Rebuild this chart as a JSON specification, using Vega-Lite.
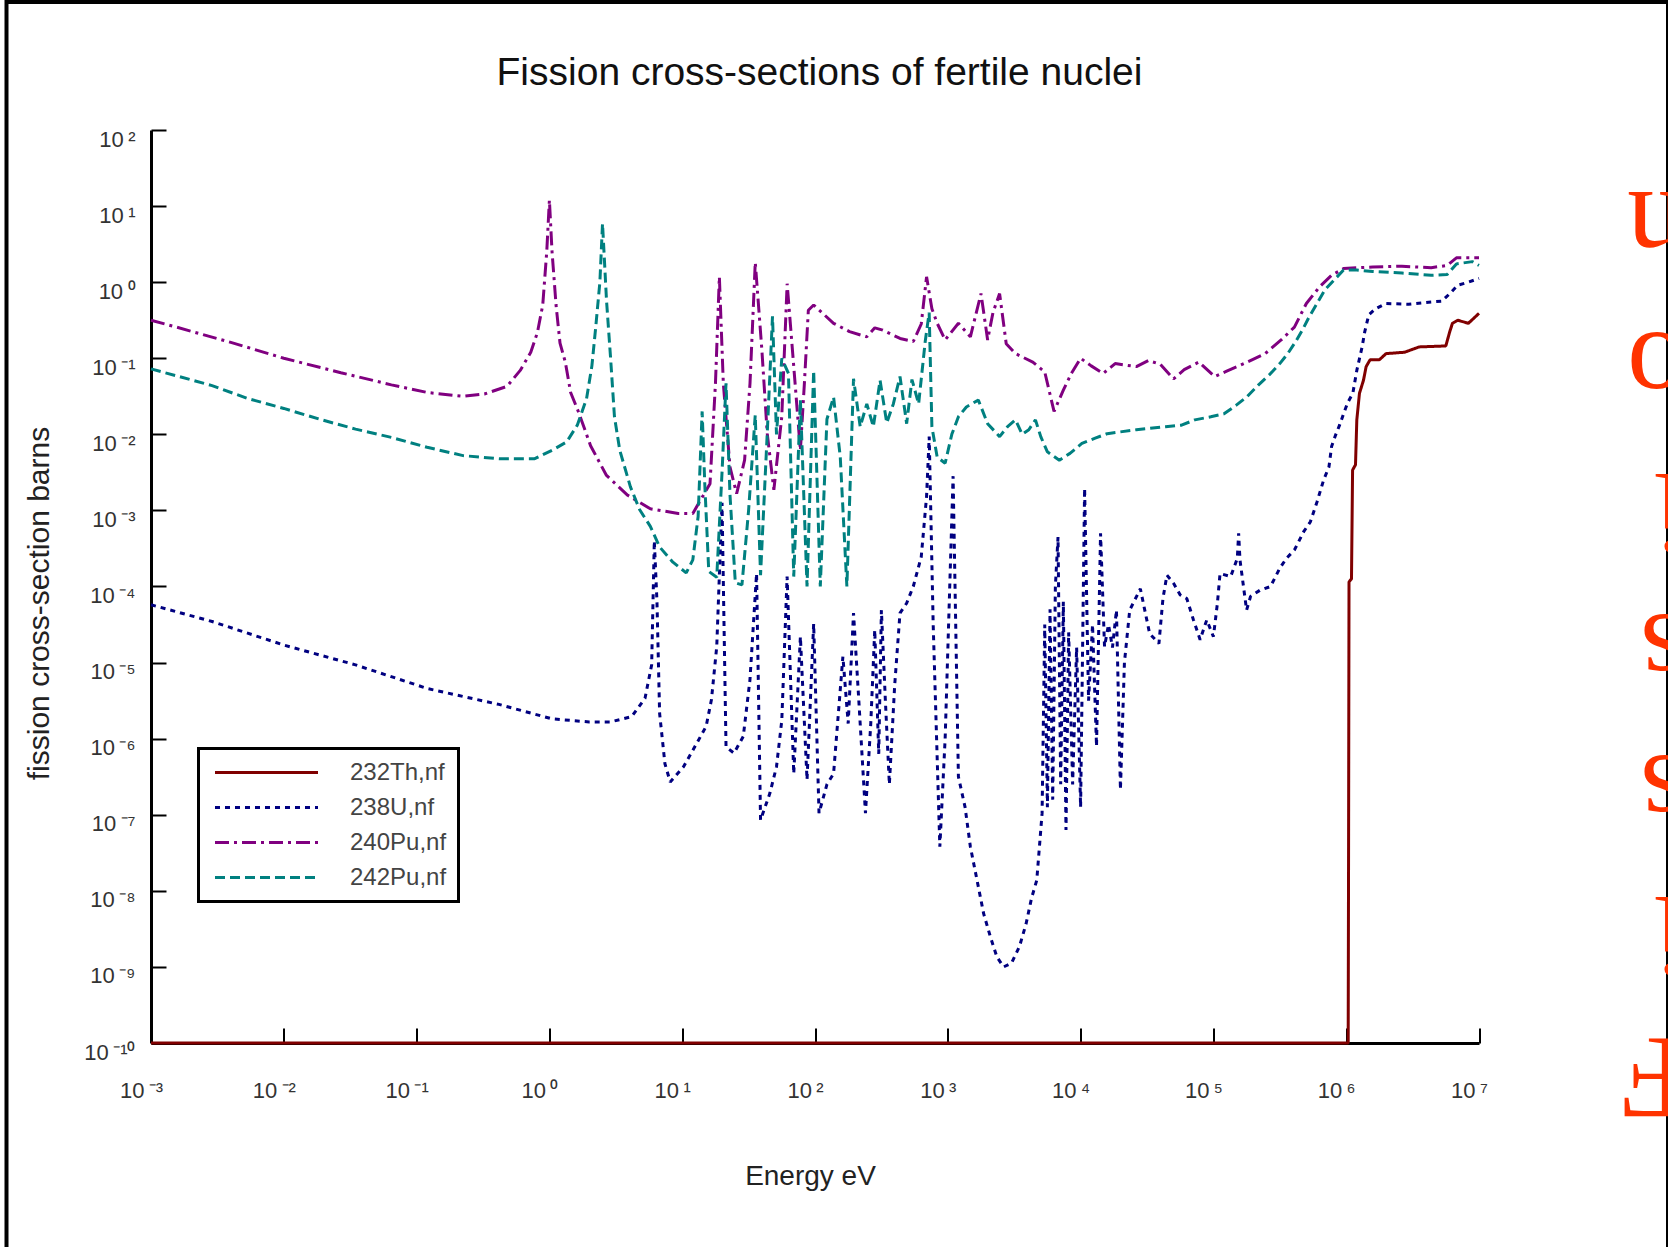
{
"$schema": "https://vega.github.io/schema/vega-lite/v6.json",
"autosize": "none",
"width": 1661.5,
"height": 1249,
"padding": {"left": 6.5, "top": 2, "right": 0, "bottom": -4},
"background": "white",
"title": {"text": "Fission cross-sections of fertile nuclei", "fontSize": 39, "font": "Liberation Sans", "fontWeight": "normal", "color": "#111", "frame": "group", "anchor": "middle", "offset": -122, "baseline": "alphabetic", "dx": -17.75},
"data": {"values": [
{"s":"232Th,nf","e":0.001,"v":1e-10},{"s":"232Th,nf","e":1.035e6,"v":1e-10},{"s":"232Th,nf","e":1.042e6,"v":3.16e-8},{"s":"232Th,nf","e":1.05e6,"v":1.15e-4},{"s":"232Th,nf","e":1.096e6,"v":1.26e-4},{"s":"232Th,nf","e":1.117e6,"v":3.39e-3},{"s":"232Th,nf","e":1.175e6,"v":3.98e-3},{"s":"232Th,nf","e":1.202e6,"v":0.0155},{"s":"232Th,nf","e":1.259e6,"v":0.0347},{"s":"232Th,nf","e":1.349e6,"v":0.0513},{"s":"232Th,nf","e":1.413e6,"v":0.0776},{"s":"232Th,nf","e":1.514e6,"v":0.0955},{"s":"232Th,nf","e":1.778e6,"v":0.0955},{"s":"232Th,nf","e":1.995e6,"v":0.115},{"s":"232Th,nf","e":2.754e6,"v":0.12},{"s":"232Th,nf","e":3.548e6,"v":0.141},{"s":"232Th,nf","e":5.623e6,"v":0.145},{"s":"232Th,nf","e":6.026e6,"v":0.224},{"s":"232Th,nf","e":6.31e6,"v":0.288},{"s":"232Th,nf","e":6.918e6,"v":0.316},{"s":"232Th,nf","e":8.318e6,"v":0.288},{"s":"232Th,nf","e":1e7,"v":0.389},
{"s":"238U,nf","e":0.001,"v":5.75e-5},{"s":"238U,nf","e":2.884e-3,"v":3.47e-5},{"s":"238U,nf","e":0.01,"v":1.7e-5},{"s":"238U,nf","e":0.0347,"v":9.33e-6},{"s":"238U,nf","e":0.12,"v":4.57e-6},{"s":"238U,nf","e":0.417,"v":2.82e-6},{"s":"238U,nf","e":1.047,"v":1.82e-6},{"s":"238U,nf","e":1.995,"v":1.66e-6},{"s":"238U,nf","e":2.884,"v":1.66e-6},{"s":"238U,nf","e":4.169,"v":1.95e-6},{"s":"238U,nf","e":5.248,"v":3.39e-6},{"s":"238U,nf","e":5.888,"v":9.33e-6},{"s":"238U,nf","e":6.166,"v":3.98e-4},{"s":"238U,nf","e":6.457,"v":6.31e-5},{"s":"238U,nf","e":6.761,"v":2.14e-6},{"s":"238U,nf","e":7.413,"v":4.68e-7},{"s":"238U,nf","e":8.128,"v":2.69e-7},{"s":"238U,nf","e":10.23,"v":4.27e-7},{"s":"238U,nf","e":12.88,"v":8.71e-7},{"s":"238U,nf","e":15.14,"v":1.45e-6},{"s":"238U,nf","e":16.6,"v":3.24e-6},{"s":"238U,nf","e":18.2,"v":1.62e-5},{"s":"238U,nf","e":19.95,"v":1.26e-3},{"s":"238U,nf","e":21.38,"v":7.76e-7},{"s":"238U,nf","e":24.55,"v":6.46e-7},{"s":"238U,nf","e":28.84,"v":1.07e-6},{"s":"238U,nf","e":32.36,"v":5.89e-6},{"s":"238U,nf","e":36.31,"v":1.48e-4},{"s":"238U,nf","e":38.9,"v":8.51e-8},{"s":"238U,nf","e":45.71,"v":1.91e-7},{"s":"238U,nf","e":51.29,"v":4.27e-7},{"s":"238U,nf","e":56.23,"v":1.74e-6},{"s":"238U,nf","e":61.66,"v":1.35e-4},{"s":"238U,nf","e":69.18,"v":3.47e-7},{"s":"238U,nf","e":77.62,"v":2.19e-5},{"s":"238U,nf","e":87.1,"v":2.88e-7},{"s":"238U,nf","e":97.7,"v":3.24e-5},{"s":"238U,nf","e":107.2,"v":1.05e-7},{"s":"238U,nf","e":123,"v":2.51e-7},{"s":"238U,nf","e":138,"v":3.47e-7},{"s":"238U,nf","e":162.2,"v":1.2e-5},{"s":"238U,nf","e":177.8,"v":1.58e-6},{"s":"238U,nf","e":195,"v":4.47e-5},{"s":"238U,nf","e":213.8,"v":3.16e-6},{"s":"238U,nf","e":239.9,"v":1.05e-7},{"s":"238U,nf","e":263,"v":1.58e-6},{"s":"238U,nf","e":281.8,"v":2.69e-5},{"s":"238U,nf","e":302,"v":6.31e-7},{"s":"238U,nf","e":316.2,"v":4.9e-5},{"s":"238U,nf","e":338.8,"v":3.16e-6},{"s":"238U,nf","e":363.1,"v":2.51e-7},{"s":"238U,nf","e":398.1,"v":5.01e-6},{"s":"238U,nf","e":436.5,"v":4.47e-5},{"s":"238U,nf","e":489.8,"v":6.03e-5},{"s":"238U,nf","e":549.5,"v":1e-4},{"s":"238U,nf","e":631,"v":2.45e-4},{"s":"238U,nf","e":691.8,"v":1.51e-3},{"s":"238U,nf","e":724.4,"v":9.33e-3},{"s":"238U,nf","e":776.2,"v":3.16e-5},{"s":"238U,nf","e":871,"v":3.8e-8},{"s":"238U,nf","e":955,"v":1e-6},{"s":"238U,nf","e":1096,"v":2.82e-3},{"s":"238U,nf","e":1202,"v":3.16e-7},{"s":"238U,nf","e":1349,"v":1.26e-7},{"s":"238U,nf","e":1479,"v":3.8e-8},{"s":"238U,nf","e":1660,"v":1.38e-8},{"s":"238U,nf","e":1862,"v":5.01e-9},{"s":"238U,nf","e":2089,"v":2.51e-9},{"s":"238U,nf","e":2344,"v":1.35e-9},{"s":"238U,nf","e":2630,"v":1e-9},{"s":"238U,nf","e":3020,"v":1.12e-9},{"s":"238U,nf","e":3467,"v":1.86e-9},{"s":"238U,nf","e":3890,"v":3.72e-9},{"s":"238U,nf","e":4266,"v":7.94e-9},{"s":"238U,nf","e":4677,"v":1.38e-8},{"s":"238U,nf","e":4898,"v":3.8e-8},{"s":"238U,nf","e":5129,"v":1.05e-7},{"s":"238U,nf","e":5370,"v":3.16e-5},{"s":"238U,nf","e":5623,"v":1.26e-7},{"s":"238U,nf","e":5888,"v":5.01e-5},{"s":"238U,nf","e":6166,"v":1.58e-7},{"s":"238U,nf","e":6457,"v":1e-4},{"s":"238U,nf","e":6761,"v":4.47e-4},{"s":"238U,nf","e":7079,"v":2.51e-7},{"s":"238U,nf","e":7413,"v":6.31e-5},{"s":"238U,nf","e":7762,"v":6.31e-8},{"s":"238U,nf","e":8128,"v":2.51e-5},{"s":"238U,nf","e":8710,"v":2.51e-7},{"s":"238U,nf","e":9333,"v":1.58e-5},{"s":"238U,nf","e":10000,"v":1.26e-7},{"s":"238U,nf","e":10720,"v":1.95e-3},{"s":"238U,nf","e":11480,"v":3.16e-6},{"s":"238U,nf","e":12300,"v":3.16e-5},{"s":"238U,nf","e":13180,"v":7.94e-7},{"s":"238U,nf","e":14130,"v":5.01e-4},{"s":"238U,nf","e":15140,"v":1.62e-5},{"s":"238U,nf","e":16220,"v":3.16e-5},{"s":"238U,nf","e":17380,"v":1.58e-5},{"s":"238U,nf","e":18620,"v":4.9e-5},{"s":"238U,nf","e":19950,"v":2.14e-7},{"s":"238U,nf","e":21380,"v":1e-5},{"s":"238U,nf","e":23440,"v":4.9e-5},{"s":"238U,nf","e":28180,"v":9.33e-5},{"s":"238U,nf","e":33110,"v":2.4e-5},{"s":"238U,nf","e":38900,"v":1.78e-5},{"s":"238U,nf","e":41690,"v":6.92e-5},{"s":"238U,nf","e":44670,"v":1.41e-4},{"s":"238U,nf","e":50120,"v":1.1e-4},{"s":"238U,nf","e":56230,"v":7.76e-5},{"s":"238U,nf","e":63100,"v":6.92e-5},{"s":"238U,nf","e":70790,"v":3.63e-5},{"s":"238U,nf","e":79430,"v":2e-5},{"s":"238U,nf","e":89130,"v":3.63e-5},{"s":"238U,nf","e":100000,"v":2.19e-5},{"s":"238U,nf","e":107200,"v":6.03e-5},{"s":"238U,nf","e":112200,"v":1.48e-4},{"s":"238U,nf","e":134900,"v":1.35e-4},{"s":"238U,nf","e":151400,"v":2.34e-4},{"s":"238U,nf","e":154900,"v":5.01e-4},{"s":"238U,nf","e":158500,"v":2.24e-4},{"s":"238U,nf","e":177800,"v":4.9e-5},{"s":"238U,nf","e":190500,"v":7.41e-5},{"s":"238U,nf","e":223900,"v":8.91e-5},{"s":"238U,nf","e":269200,"v":1e-4},{"s":"238U,nf","e":316200,"v":1.74e-4},{"s":"238U,nf","e":354800,"v":2.34e-4},{"s":"238U,nf","e":407400,"v":3.02e-4},{"s":"238U,nf","e":478600,"v":5.25e-4},{"s":"238U,nf","e":537000,"v":7.08e-4},{"s":"238U,nf","e":602600,"v":1.29e-3},{"s":"238U,nf","e":676100,"v":2.51e-3},{"s":"238U,nf","e":741300,"v":3.72e-3},{"s":"238U,nf","e":776200,"v":6.92e-3},{"s":"238U,nf","e":831800,"v":9.77e-3},{"s":"238U,nf","e":891300,"v":0.0132},{"s":"238U,nf","e":955000,"v":0.0186},{"s":"238U,nf","e":1.023e6,"v":0.0257},{"s":"238U,nf","e":1.122e6,"v":0.0347},{"s":"238U,nf","e":1.202e6,"v":0.0692},{"s":"238U,nf","e":1.318e6,"v":0.141},{"s":"238U,nf","e":1.38e6,"v":0.224},{"s":"238U,nf","e":1.479e6,"v":0.372},{"s":"238U,nf","e":1.66e6,"v":0.447},{"s":"238U,nf","e":1.995e6,"v":0.525},{"s":"238U,nf","e":2.951e6,"v":0.513},{"s":"238U,nf","e":4.365e6,"v":0.55},{"s":"238U,nf","e":5.248e6,"v":0.562},{"s":"238U,nf","e":6.026e6,"v":0.708},{"s":"238U,nf","e":6.918e6,"v":0.912},{"s":"238U,nf","e":8.318e6,"v":1.0},{"s":"238U,nf","e":1e7,"v":1.122},
{"s":"240Pu,nf","e":0.001,"v":0.316},{"s":"240Pu,nf","e":1.549e-3,"v":0.257},{"s":"240Pu,nf","e":4.17e-3,"v":0.158},{"s":"240Pu,nf","e":0.01,"v":0.1},{"s":"240Pu,nf","e":0.0269,"v":0.0646},{"s":"240Pu,nf","e":0.0646,"v":0.0447},{"s":"240Pu,nf","e":0.12,"v":0.0355},{"s":"240Pu,nf","e":0.224,"v":0.0316},{"s":"240Pu,nf","e":0.324,"v":0.0339},{"s":"240Pu,nf","e":0.479,"v":0.0427},{"s":"240Pu,nf","e":0.603,"v":0.0692},{"s":"240Pu,nf","e":0.724,"v":0.12},{"s":"240Pu,nf","e":0.813,"v":0.219},{"s":"240Pu,nf","e":0.891,"v":0.501},{"s":"240Pu,nf","e":0.955,"v":2.51},{"s":"240Pu,nf","e":1.0,"v":12.0},{"s":"240Pu,nf","e":1.047,"v":2.51},{"s":"240Pu,nf","e":1.122,"v":0.501},{"s":"240Pu,nf","e":1.202,"v":0.158},{"s":"240Pu,nf","e":1.318,"v":0.0891},{"s":"240Pu,nf","e":1.445,"v":0.0355},{"s":"240Pu,nf","e":1.66,"v":0.0195},{"s":"240Pu,nf","e":2.042,"v":0.00708},{"s":"240Pu,nf","e":2.692,"v":0.00288},{"s":"240Pu,nf","e":3.89,"v":0.00158},{"s":"240Pu,nf","e":5.754,"v":0.00105},{"s":"240Pu,nf","e":9.333,"v":0.000912},{"s":"240Pu,nf","e":12.02,"v":0.000912},{"s":"240Pu,nf","e":16.2,"v":0.00224},{"s":"240Pu,nf","e":17.8,"v":0.0468},{"s":"240Pu,nf","e":19.05,"v":1.175},{"s":"240Pu,nf","e":20.4,"v":0.0468},{"s":"240Pu,nf","e":22.9,"v":0.00372},{"s":"240Pu,nf","e":25.7,"v":0.00166},{"s":"240Pu,nf","e":29.5,"v":0.00457},{"s":"240Pu,nf","e":32.4,"v":0.0468},{"s":"240Pu,nf","e":35.5,"v":1.82},{"s":"240Pu,nf","e":39.8,"v":0.129},{"s":"240Pu,nf","e":43.7,"v":0.0102},{"s":"240Pu,nf","e":49.0,"v":0.00186},{"s":"240Pu,nf","e":56.2,"v":0.017},{"s":"240Pu,nf","e":61.7,"v":0.955},{"s":"240Pu,nf","e":69.2,"v":0.0776},{"s":"240Pu,nf","e":77.6,"v":0.00617},{"s":"240Pu,nf","e":83.2,"v":0.0468},{"s":"240Pu,nf","e":89.1,"v":0.427},{"s":"240Pu,nf","e":97.7,"v":0.501},{"s":"240Pu,nf","e":138,"v":0.288},{"s":"240Pu,nf","e":182,"v":0.224},{"s":"240Pu,nf","e":245,"v":0.191},{"s":"240Pu,nf","e":282,"v":0.251},{"s":"240Pu,nf","e":324,"v":0.234},{"s":"240Pu,nf","e":437,"v":0.182},{"s":"240Pu,nf","e":550,"v":0.166},{"s":"240Pu,nf","e":631,"v":0.282},{"s":"240Pu,nf","e":692,"v":1.175},{"s":"240Pu,nf","e":759,"v":0.447},{"s":"240Pu,nf","e":832,"v":0.288},{"s":"240Pu,nf","e":955,"v":0.174},{"s":"240Pu,nf","e":1202,"v":0.288},{"s":"240Pu,nf","e":1479,"v":0.191},{"s":"240Pu,nf","e":1778,"v":0.708},{"s":"240Pu,nf","e":1995,"v":0.174},{"s":"240Pu,nf","e":2188,"v":0.398},{"s":"240Pu,nf","e":2455,"v":0.708},{"s":"240Pu,nf","e":2754,"v":0.155},{"s":"240Pu,nf","e":3236,"v":0.115},{"s":"240Pu,nf","e":4365,"v":0.0891},{"s":"240Pu,nf","e":5370,"v":0.0661},{"s":"240Pu,nf","e":6310,"v":0.02},{"s":"240Pu,nf","e":7413,"v":0.038},{"s":"240Pu,nf","e":8511,"v":0.0631},{"s":"240Pu,nf","e":10000,"v":0.1},{"s":"240Pu,nf","e":12020,"v":0.0794},{"s":"240Pu,nf","e":14790,"v":0.0631},{"s":"240Pu,nf","e":18200,"v":0.0851},{"s":"240Pu,nf","e":26300,"v":0.0776},{"s":"240Pu,nf","e":32360,"v":0.0933},{"s":"240Pu,nf","e":39810,"v":0.0832},{"s":"240Pu,nf","e":50120,"v":0.0537},{"s":"240Pu,nf","e":60260,"v":0.0708},{"s":"240Pu,nf","e":77620,"v":0.0891},{"s":"240Pu,nf","e":102300,"v":0.0575},{"s":"240Pu,nf","e":125900,"v":0.0676},{"s":"240Pu,nf","e":169800,"v":0.0851},{"s":"240Pu,nf","e":245500,"v":0.115},{"s":"240Pu,nf","e":323600,"v":0.174},{"s":"240Pu,nf","e":407400,"v":0.257},{"s":"240Pu,nf","e":501200,"v":0.525},{"s":"240Pu,nf","e":631000,"v":0.871},{"s":"240Pu,nf","e":776200,"v":1.23},{"s":"240Pu,nf","e":955000,"v":1.51},{"s":"240Pu,nf","e":1.585e6,"v":1.585},{"s":"240Pu,nf","e":2.63e6,"v":1.62},{"s":"240Pu,nf","e":4.365e6,"v":1.55},{"s":"240Pu,nf","e":5.754e6,"v":1.66},{"s":"240Pu,nf","e":6.761e6,"v":2.09},{"s":"240Pu,nf","e":1e7,"v":2.09},
{"s":"242Pu,nf","e":0.001,"v":0.0724},{"s":"242Pu,nf","e":1.549e-3,"v":0.0589},{"s":"242Pu,nf","e":2.884e-3,"v":0.0437},{"s":"242Pu,nf","e":5.37e-3,"v":0.0295},{"s":"242Pu,nf","e":0.01,"v":0.0219},{"s":"242Pu,nf","e":0.0186,"v":0.0158},{"s":"242Pu,nf","e":0.0347,"v":0.0117},{"s":"242Pu,nf","e":0.0646,"v":0.00912},{"s":"242Pu,nf","e":0.12,"v":0.00676},{"s":"242Pu,nf","e":0.224,"v":0.00525},{"s":"242Pu,nf","e":0.417,"v":0.00479},{"s":"242Pu,nf","e":0.776,"v":0.00479},{"s":"242Pu,nf","e":1.047,"v":0.00617},{"s":"242Pu,nf","e":1.349,"v":0.00794},{"s":"242Pu,nf","e":1.622,"v":0.0132},{"s":"242Pu,nf","e":1.905,"v":0.0295},{"s":"242Pu,nf","e":2.089,"v":0.0794},{"s":"242Pu,nf","e":2.239,"v":0.269},{"s":"242Pu,nf","e":2.399,"v":1.0},{"s":"242Pu,nf","e":2.512,"v":5.89},{"s":"242Pu,nf","e":2.63,"v":1.259},{"s":"242Pu,nf","e":2.692,"v":0.575},{"s":"242Pu,nf","e":2.884,"v":0.105},{"s":"242Pu,nf","e":3.09,"v":0.017},{"s":"242Pu,nf","e":3.388,"v":0.00617},{"s":"242Pu,nf","e":4.074,"v":0.00204},{"s":"242Pu,nf","e":4.786,"v":0.00102},{"s":"242Pu,nf","e":5.754,"v":0.000617},{"s":"242Pu,nf","e":6.761,"v":0.000331},{"s":"242Pu,nf","e":8.511,"v":0.000209},{"s":"242Pu,nf","e":10.72,"v":0.000151},{"s":"242Pu,nf","e":12.02,"v":0.000224},{"s":"242Pu,nf","e":13.18,"v":0.000832},{"s":"242Pu,nf","e":14.13,"v":0.02},{"s":"242Pu,nf","e":14.79,"v":0.00224},{"s":"242Pu,nf","e":15.85,"v":0.000158},{"s":"242Pu,nf","e":18.2,"v":0.000132},{"s":"242Pu,nf","e":19.95,"v":0.00316},{"s":"242Pu,nf","e":21.38,"v":0.0468},{"s":"242Pu,nf","e":22.91,"v":0.00158},{"s":"242Pu,nf","e":25.12,"v":0.000112},{"s":"242Pu,nf","e":28.18,"v":0.000105},{"s":"242Pu,nf","e":31.62,"v":0.001},{"s":"242Pu,nf","e":35.48,"v":0.0178},{"s":"242Pu,nf","e":38.9,"v":0.000141},{"s":"242Pu,nf","e":43.65,"v":0.01},{"s":"242Pu,nf","e":47.86,"v":0.355},{"s":"242Pu,nf","e":51.29,"v":0.01},{"s":"242Pu,nf","e":56.23,"v":0.1},{"s":"242Pu,nf","e":63.1,"v":0.0631},{"s":"242Pu,nf","e":69.18,"v":0.000135},{"s":"242Pu,nf","e":77.62,"v":0.0282},{"s":"242Pu,nf","e":87.1,"v":0.0001},{"s":"242Pu,nf","e":97.7,"v":0.0692},{"s":"242Pu,nf","e":109.6,"v":0.0001},{"s":"242Pu,nf","e":123,"v":0.0158},{"s":"242Pu,nf","e":138,"v":0.0309},{"s":"242Pu,nf","e":155,"v":0.00501},{"s":"242Pu,nf","e":173.8,"v":0.0001},{"s":"242Pu,nf","e":195,"v":0.0537},{"s":"242Pu,nf","e":219,"v":0.0126},{"s":"242Pu,nf","e":245.5,"v":0.0251},{"s":"242Pu,nf","e":275,"v":0.0126},{"s":"242Pu,nf","e":309,"v":0.0513},{"s":"242Pu,nf","e":347,"v":0.0141},{"s":"242Pu,nf","e":389,"v":0.0251},{"s":"242Pu,nf","e":436.5,"v":0.0575},{"s":"242Pu,nf","e":490,"v":0.0138},{"s":"242Pu,nf","e":537,"v":0.0525},{"s":"242Pu,nf","e":603,"v":0.0251},{"s":"242Pu,nf","e":676,"v":0.166},{"s":"242Pu,nf","e":724,"v":0.398},{"s":"242Pu,nf","e":759,"v":0.0126},{"s":"242Pu,nf","e":832,"v":0.00501},{"s":"242Pu,nf","e":955,"v":0.00417},{"s":"242Pu,nf","e":1072,"v":0.01},{"s":"242Pu,nf","e":1202,"v":0.017},{"s":"242Pu,nf","e":1380,"v":0.0229},{"s":"242Pu,nf","e":1698,"v":0.0282},{"s":"242Pu,nf","e":1995,"v":0.0138},{"s":"242Pu,nf","e":2455,"v":0.00933},{"s":"242Pu,nf","e":2818,"v":0.0126},{"s":"242Pu,nf","e":3236,"v":0.0155},{"s":"242Pu,nf","e":3631,"v":0.01},{"s":"242Pu,nf","e":4074,"v":0.0115},{"s":"242Pu,nf","e":4571,"v":0.0155},{"s":"242Pu,nf","e":5012,"v":0.00933},{"s":"242Pu,nf","e":5623,"v":0.00589},{"s":"242Pu,nf","e":6918,"v":0.00457},{"s":"242Pu,nf","e":8318,"v":0.00562},{"s":"242Pu,nf","e":10230,"v":0.00759},{"s":"242Pu,nf","e":12880,"v":0.00891},{"s":"242Pu,nf","e":15850,"v":0.0102},{"s":"242Pu,nf","e":26300,"v":0.0115},{"s":"242Pu,nf","e":43650,"v":0.0126},{"s":"242Pu,nf","e":57540,"v":0.0132},{"s":"242Pu,nf","e":72440,"v":0.0155},{"s":"242Pu,nf","e":95500,"v":0.017},{"s":"242Pu,nf","e":120200,"v":0.0186},{"s":"242Pu,nf","e":147900,"v":0.024},{"s":"242Pu,nf","e":177800,"v":0.0309},{"s":"242Pu,nf","e":218800,"v":0.0447},{"s":"242Pu,nf","e":263000,"v":0.0603},{"s":"242Pu,nf","e":316200,"v":0.0851},{"s":"242Pu,nf","e":363100,"v":0.115},{"s":"242Pu,nf","e":416900,"v":0.166},{"s":"242Pu,nf","e":467700,"v":0.234},{"s":"242Pu,nf","e":524800,"v":0.347},{"s":"242Pu,nf","e":602600,"v":0.525},{"s":"242Pu,nf","e":691800,"v":0.794},{"s":"242Pu,nf","e":812800,"v":1.072},{"s":"242Pu,nf","e":955000,"v":1.445},{"s":"242Pu,nf","e":1.202e6,"v":1.445},{"s":"242Pu,nf","e":1.585e6,"v":1.38},{"s":"242Pu,nf","e":2.63e6,"v":1.318},{"s":"242Pu,nf","e":4.365e6,"v":1.23},{"s":"242Pu,nf","e":5.754e6,"v":1.259},{"s":"242Pu,nf","e":6.761e6,"v":1.738},{"s":"242Pu,nf","e":8.913e6,"v":1.862},{"s":"242Pu,nf","e":1e7,"v":1.66}
]},
"encoding": {
  "x": {"field": "e", "type": "quantitative",
    "scale": {"type": "log", "domain": [0.001, 10000000], "range": [144.5, 1472.5], "nice": false},
    "axis": {"orient": "bottom", "offset": -208, "grid": false,
      "values": [0.001, 0.01, 0.1, 1, 10, 100, 1000, 10000, 100000, 1000000, 10000000],
      "labelExpr": "'10\u2009' + ['⁻³','⁻²','⁻¹','⁰','¹','²','³','⁴','⁵','⁶','⁷'][round(log(datum.value)/LN10)+3]",
      "domainColor": "black", "domainWidth": 3, "tickColor": "black", "tickWidth": 2, "tickSize": -15,
      "labelPadding": 52, "labelFontSize": 22, "labelColor": "#333", "labelOffset": -10, "labelFlush": false, "labelOverlap": false, "labelBound": false,
      "title": "Energy eV", "titleFontSize": 28, "titleFontWeight": "normal", "titleColor": "#222", "titleX": 803.5, "titleY": 141, "titleAlign": "center", "titleBaseline": "alphabetic"}}
},
"layer": [
  {
    "mark": {"type": "line", "strokeWidth": 3, "strokeCap": "butt", "strokeJoin": "bevel"},
    "encoding": {
      "y": {"field": "v", "type": "quantitative",
        "scale": {"type": "log", "domain": [1e-10, 100], "range": [1041, 128], "nice": false},
        "axis": {"orient": "left", "offset": -144.5, "grid": false,
          "values": [1e-10, 1e-9, 1e-8, 1e-7, 1e-6, 1e-5, 1e-4, 0.001, 0.01, 0.1, 1, 10, 100],
          "labelExpr": "'10\u2009' + ['⁻¹⁰','⁻⁹','⁻⁸','⁻⁷','⁻⁶','⁻⁵','⁻⁴','⁻³','⁻²','⁻¹','⁰','¹','²'][round(log(datum.value)/LN10)+10]",
          "domainColor": "black", "domainWidth": 3, "tickColor": "black", "tickWidth": 2, "tickSize": -15,
          "labelPadding": 31, "labelFontSize": 22, "labelColor": "#333", "labelOffset": 9, "labelFlush": false, "labelOverlap": false, "labelBound": false,
          "title": "fission cross-section barns", "titleFontSize": 30, "titleFontWeight": "normal", "titleColor": "#222", "titleX": -103, "titleY": 601, "titleAngle": 270, "titleAlign": "center", "titleBaseline": "alphabetic"}},
      "color": {"field": "s", "type": "nominal",
        "scale": {"domain": ["232Th,nf", "238U,nf", "240Pu,nf", "242Pu,nf"], "range": ["#800000", "#000080", "#800080", "#008080"]},
        "legend": {"title": null, "orient": "none", "legendX": 192, "legendY": 746.5, "padding": 12, "strokeColor": "black", "fillColor": "white", "symbolType": "M-0.75,0H9.55", "symbolSize": 400, "symbolStrokeWidth": 3, "labelFontSize": 24, "labelColor": "#444", "labelOffset": 115.5, "rowPadding": 11}},
      "strokeDash": {"field": "s", "type": "nominal",
        "scale": {"domain": ["232Th,nf", "238U,nf", "240Pu,nf", "242Pu,nf"], "range": [[1, 0], [5, 5], [14, 5, 3, 5], [10, 5]]},
        "legend": {"title": null, "orient": "none", "legendX": 192, "legendY": 746.5, "padding": 12, "strokeColor": "black", "fillColor": "white", "symbolType": "M-0.75,0H9.55", "symbolSize": 400, "symbolStrokeWidth": 3, "labelFontSize": 24, "labelColor": "#444", "labelOffset": 115.5, "rowPadding": 11}}
    }
  },
  {
    "mark": {"type": "point", "opacity": 0},
    "encoding": {
      "y": {"field": "v", "type": "quantitative",
        "scale": {"type": "log", "domain": [1e-10, 100], "range": [1041, 128], "nice": false},
        "axis": {"orient": "right", "labels": false, "ticks": false, "domain": false, "grid": false,
          "title": ["F", "i", "s", "s", "i", "o", "n"], "titleFont": "Liberation Serif", "titleFontSize": 119, "titleFontWeight": "normal", "titleColor": "#ff3300",
          "titleAngle": 180, "titleAlign": "left", "titleBaseline": "alphabetic", "titleLineHeight": 141, "titleX": 18, "titleY": 1035}}
    }
  }
],
"resolve": {"scale": {"y": "independent"}},
"config": {
  "font": "Liberation Sans",
  "view": {"stroke": "black", "strokeWidth": 4},
  "legend": {"strokeWidth": 3}
}
}
